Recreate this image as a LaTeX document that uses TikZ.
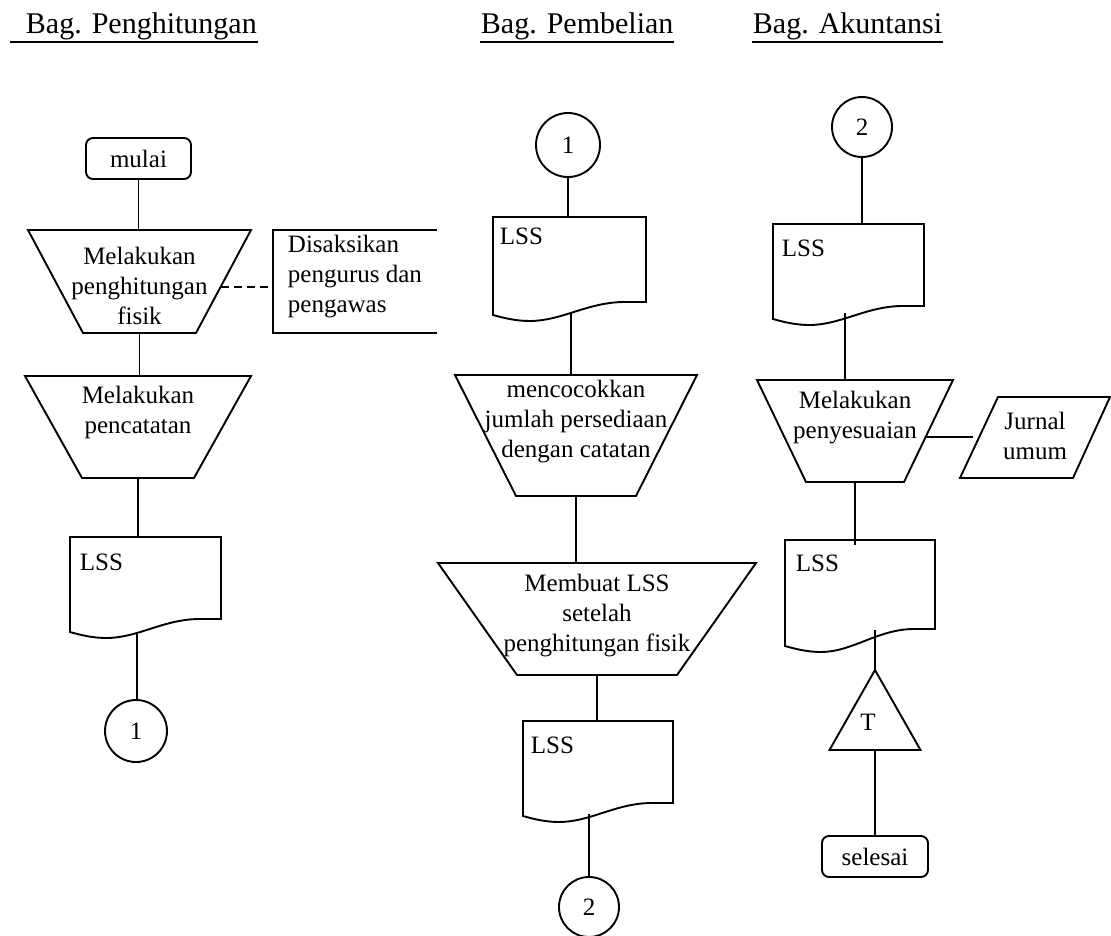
\documentclass[tikz,border=0pt]{standalone}
\usepackage{fontspec}
\setmainfont{Liberation Serif}
\begin{document}
% trapezoid (manual operation): name, x, y, top width, height, bottom inset
\newcommand\trapbox[6]{%
  \node[frame, minimum width=#4, minimum height=#5] (#1) at (#2,#3) {};
  \draw (#1.north west) -- (#1.north east) -- ([xshift=-#6]#1.south east)
        -- ([xshift=#6]#1.south west) -- cycle;}
% document symbol: name, x, y, width, right-side depth, left-side depth
\newcommand\docbox[6]{%
  \node[frame, minimum width=#4, minimum height=#6] (#1) at (#2,#3) {};
  \draw (#2,#3) -- ({#2+#4},#3) -- ({#2+#4},{#3+#5}) -- ({#2+0.86*#4},{#3+#5})
    .. controls ({#2+0.62*#4},{#3+#5}) and ({#2+0.45*#4},{#3+#6+6}) .. ({#2+0.24*#4},{#3+#6+6})
    .. controls ({#2+0.15*#4},{#3+#6+6}) and ({#2+0.07*#4},{#3+#6+3}) .. (#2,{#3+#6}) -- cycle;}
\begin{tikzpicture}[x=1pt,y=-1pt,line width=1.9pt,
  txt/.style={font=\fontsize{25}{30}\selectfont, inner sep=0pt, align=center},
  hdr/.style={font=\fontsize{30}{35}\selectfont, inner sep=0pt, anchor=base west},
  frame/.style={inner sep=0pt, outer sep=0pt, anchor=north west},
  conn/.style={draw, circle, inner sep=0pt, font=\fontsize{25}{30}\selectfont},
  term/.style={draw, rounded corners=7pt, inner sep=0pt, minimum width=105pt,
               minimum height=41pt, font=\fontsize{25}{30}\selectfont},
  aside/.style={dash pattern=on 8pt off 5pt},
  uline/.style={line width=2.2pt}]
\useasboundingbox (0,0) rectangle (1111,936);

% column headings
\node[hdr] (h1) at (25,34) {Bag. Penghitungan};
\node[hdr] (h2) at (480,34) {Bag. Pembelian};
\node[hdr] (h3) at (752,34) {Bag. Akuntansi};
\draw[uline] ([xshift=-15pt,yshift=-8pt]h1.base west) -- ([yshift=-8pt]h1.base east);
\draw[uline] ([yshift=-8pt]h2.base west) -- ([yshift=-8pt]h2.base east);
\draw[uline] ([yshift=-8pt]h3.base west) -- ([yshift=-8pt]h3.base east);

% --- Bag. Penghitungan ---
\node[term] (mulai) at (138.5,158.5) {mulai};
\trapbox{t1}{28}{230}{223}{103}{55}
\node[txt] (t1x) at (139.5,286) {Melakukan\\penghitungan\\fisik};
\node[frame, minimum width=164, minimum height=103] (saksi) at (273,230) {};
\draw (saksi.north east) -- (saksi.north west) -- (saksi.south west) -- (saksi.south east);
\node[txt, align=left, anchor=west] (saksix) at (287,277) {Disaksikan\\pengurus dan\\pengawas};
\coordinate (t1r) at (221,287);
\trapbox{t2}{25}{376}{226}{102}{57}
\node[txt] (t2x) at (138,412) {Melakukan\\pencatatan};
\docbox{d1}{70}{537}{151}{82}{95}
\node[txt, anchor=west] (d1x) at (79,562) {LSS};
\coordinate (d1w) at (137,634);
\node[conn, minimum size=62] (c1) at (136,731) {1};

% --- Bag. Pembelian ---
\node[conn, minimum size=64] (c2) at (568,145) {1};
\docbox{d2}{493}{217}{153}{85}{98}
\node[txt, anchor=west] (d2x) at (499,236) {LSS};
\coordinate (d2w) at (571,312);
\trapbox{t3}{455}{375}{242}{121}{61}
\node[txt] (t3x) at (576,422) {mencocokkan\\jumlah persediaan\\dengan catatan};
\trapbox{t4}{438}{563}{318}{112}{79}
\node[txt] (t4x) at (597,616) {Membuat LSS\\setelah\\penghitungan fisik};
\docbox{d3}{523}{721}{150}{82}{95}
\node[txt, anchor=west] (d3x) at (530,745) {LSS};
\coordinate (d3w) at (589,814);
\node[conn, minimum size=60] (c3) at (589,907) {2};

% --- Bag. Akuntansi ---
\node[conn, minimum size=60] (c4) at (862,127) {2};
\docbox{d4}{773}{224}{151}{82}{95}
\node[txt, anchor=west] (d4x) at (781,248) {LSS};
\coordinate (d4w) at (845,313);
\trapbox{t5}{757}{380}{196}{102}{49}
\node[txt] (t5x) at (855,418) {Melakukan\\penyesuaian};
\node[frame, minimum width=150, minimum height=81] (jur) at (960,397) {};
\draw ([xshift=38pt]jur.north west) -- (jur.north east) -- ([xshift=-37pt]jur.south east)
      -- (jur.south west) -- cycle;
\node[txt] (jurx) at (1035,436) {Jurnal\\umum};
\coordinate (t5r) at (926,437);
\coordinate (jurl) at (973,437);
\docbox{d5}{785}{540}{150}{89}{106}
\node[txt, anchor=west] (d5x) at (795,563) {LSS};
\coordinate (d5w) at (875,630);
\node[frame, anchor=north, minimum width=91, minimum height=80] (tri) at (875,670) {};
\draw (tri.north) -- (tri.south east) -- (tri.south west) -- cycle;
\node[txt] (trix) at (868,722) {T};
\node[term, minimum width=106pt] (sel) at (875,856.5) {selesai};

% connectors
\draw (mulai.south) -- (mulai.south |- t1.north);
\draw[aside] (t1r) -- (t1r -| saksi.west);
\draw (t1.south) -- (t1.south |- t2.north);
\draw (t2.south) -- (t2.south |- d1.north);
\draw (d1w) -- (d1w |- c1.north);
\draw (c2.south) -- (c2.south |- d2.north);
\draw (d2w) -- (d2w |- t3.north);
\draw (t3.south) -- (t3.south |- t4.north);
\draw (t4.south) -- (t4.south |- d3.north);
\draw (d3w) -- (d3w |- c3.north);
\draw (c4.south) -- (c4.south |- d4.north);
\draw (d4w) -- (d4w |- t5.north);
\draw (t5.south) -- ([yshift=-5pt]t5.south |- d5.north);
\draw (t5r) -- (jurl);
\draw (d5w) -- (tri.north);
\draw (tri.south) -- (sel.north);
\end{tikzpicture}
\end{document}
